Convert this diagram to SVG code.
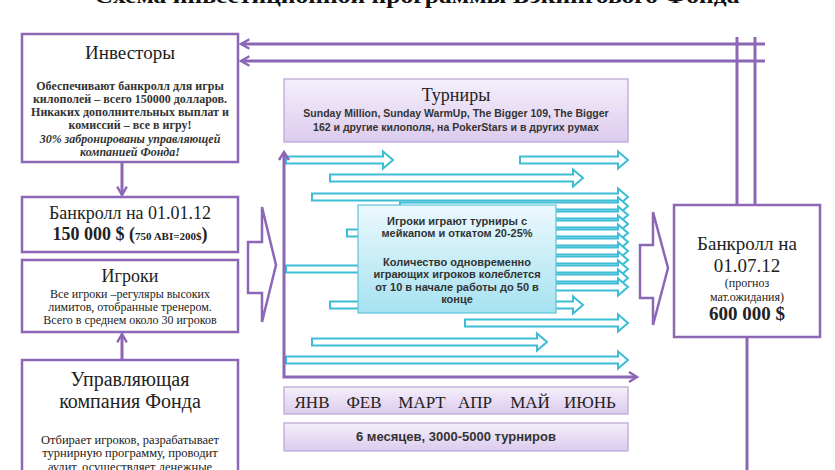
<svg xmlns="http://www.w3.org/2000/svg" width="835" height="470" viewBox="0 0 835 470">
<defs>
<style>
.pbox{fill:#fff;stroke:#8c67b6;stroke-width:2.5}
.lav{fill:url(#gl);stroke:#b9a3d4;stroke-width:1.2}
.cyb{fill:url(#gc);stroke:#5ec3d9;stroke-width:1.2}
.pl{fill:none;stroke:#8c67b6;stroke-width:3}
.ca{fill:#fff;stroke:#3dbdd5;stroke-width:2}
.pa{fill:#fff;stroke:#8c67b6;stroke-width:2.5}
.h{font-family:"Liberation Serif",serif;fill:#222;text-anchor:middle}
.sb{font-family:"Liberation Serif",serif;font-weight:bold;fill:#333;text-anchor:middle}
.s{font-family:"Liberation Sans",sans-serif;font-weight:bold;fill:#333;text-anchor:middle}
</style>
<linearGradient id="gl" x1="0" y1="0" x2="0" y2="1"><stop offset="0" stop-color="#f5f0fb"/><stop offset="1" stop-color="#dccbee"/></linearGradient>
<linearGradient id="gc" x1="0" y1="0" x2="0" y2="1"><stop offset="0" stop-color="#ecf9fd"/><stop offset="1" stop-color="#a6e2f1"/></linearGradient>
<marker id="ch" viewBox="0 0 10 10" refX="8" refY="5" markerWidth="4" markerHeight="4" orient="auto" markerUnits="strokeWidth"><path d="M1,1 L8,5 L1,9" fill="none" stroke="#8c67b6" stroke-width="2"/></marker>
</defs>
<text x="417" y="3" font-family="Liberation Serif,serif" font-weight="bold" font-size="22" text-anchor="middle" textLength="645" lengthAdjust="spacingAndGlyphs" fill="#111">Схема инвестиционной программы Бэкингового Фонда</text>

<g id="connectors">
<line class="pl" x1="765" y1="44" x2="241" y2="44" marker-end="url(#ch)"/>
<line class="pl" x1="765" y1="61" x2="241" y2="61" marker-end="url(#ch)"/>
<line class="pl" x1="737" y1="37" x2="737" y2="205"/>
<line class="pl" x1="755" y1="37" x2="755" y2="205"/>
<line class="pl" x1="747" y1="337" x2="747" y2="470"/>
<line class="pl" x1="122" y1="163" x2="122" y2="195" marker-end="url(#ch)"/>
<line class="pl" x1="122" y1="360" x2="122" y2="334" marker-end="url(#ch)"/>
<path class="pa" d="M248,242 H262 V207 L276,265 L262,322 V293 H248 Z"/>
<path class="pa" d="M640,245 H653 V212 L668,268 L653,325 V298 H640 Z"/>
</g>

<g id="flows">
<path class="ca" d="M286,156.5 H383 V151.5 L393,160 L383,168.5 V163.5 H286 Z"/>
<path class="ca" d="M520,156.5 H618 V151.5 L628,160 L618,168.5 V163.5 H520 Z"/>
<path class="ca" d="M330,174.5 H573 V169.5 L583,178 L573,186.5 V181.5 H330 Z"/>
<path class="ca" d="M312,193.5 H618 V188.5 L628,197 L618,205.5 V200.5 H312 Z"/>
<path class="ca" d="M400,202.5 H618 V197.5 L628,206 L618,214.5 V209.5 H400 Z"/>
<path class="ca" d="M400,211.5 H618 V206.5 L628,215 L618,223.5 V218.5 H400 Z"/>
<path class="ca" d="M400,220.5 H618 V215.5 L628,224 L618,232.5 V227.5 H400 Z"/>
<path class="ca" d="M347,229.5 H618 V224.5 L628,233 L618,241.5 V236.5 H347 Z"/>
<path class="ca" d="M400,238.5 H618 V233.5 L628,242 L618,250.5 V245.5 H400 Z"/>
<path class="ca" d="M400,247.5 H618 V242.5 L628,251 L618,259.5 V254.5 H400 Z"/>
<path class="ca" d="M400,256.5 H618 V251.5 L628,260 L618,268.5 V263.5 H400 Z"/>
<path class="ca" d="M286,265.5 H618 V260.5 L628,269 L618,277.5 V272.5 H286 Z"/>
<path class="ca" d="M400,274.5 H618 V269.5 L628,278 L618,286.5 V281.5 H400 Z"/>
<path class="ca" d="M400,283.5 H618 V278.5 L628,287 L618,295.5 V290.5 H400 Z"/>
<path class="ca" d="M330,301.5 H573 V296.5 L583,305 L573,313.5 V308.5 H330 Z"/>
<path class="ca" d="M465,319.5 H618 V314.5 L628,323 L618,331.5 V326.5 H465 Z"/>
<path class="ca" d="M312,338.5 H537 V333.5 L547,342 L537,350.5 V345.5 H312 Z"/>
<path class="ca" d="M286,356.5 H618 V351.5 L628,360 L618,368.5 V363.5 H286 Z"/>
<polyline class="pl" points="284,152 284,377 636,377"/>
<path d="M279,160 L284,152 L289,160" fill="none" stroke="#8c67b6" stroke-width="2.5"/>
<path d="M629,372 L637,377 L629,382" fill="none" stroke="#8c67b6" stroke-width="2.5"/>
</g>

<g id="investors">
<rect class="pbox" x="22" y="34" width="216" height="128"/>
<text class="h" x="130" y="59" font-size="19">Инвесторы</text>
<text class="sb" font-size="12"><tspan x="130" y="90">Обеспечивают банкролл для игры</tspan><tspan x="130" y="103">килополей – всего 150000 долларов.</tspan><tspan x="130" y="116">Никаких дополнительных выплат и</tspan><tspan x="130" y="129">комиссий – все в игру!</tspan><tspan x="130" y="142.5" font-style="italic">30%  забронированы управляющей</tspan><tspan x="130" y="156" font-style="italic">компанией Фонда!</tspan></text>
</g>

<g id="bankroll-start">
<rect class="pbox" x="22" y="197" width="216" height="55"/>
<text class="h" x="130" y="219" font-size="18">Банкролл на 01.01.12</text>
<text class="h" x="130" y="240" font-size="18" font-weight="bold">150 000 $ (<tspan font-size="11">750 ABI=200$</tspan>)</text>
</g>

<g id="players">
<rect class="pbox" x="22" y="260" width="216" height="72"/>
<text class="h" x="130" y="282" font-size="18">Игроки</text>
<text class="h" font-size="12"><tspan x="130" y="298">Все игроки –регуляры высоких</tspan><tspan x="130" y="311">лимитов, отобранные тренером.</tspan><tspan x="130" y="324">Всего в среднем около 30 игроков</tspan></text>
</g>

<g id="management">
<rect class="pbox" x="22" y="360" width="216" height="120"/>
<text class="h" x="130" y="386" font-size="20">Управляющая</text>
<text class="h" x="130" y="408" font-size="20">компания Фонда</text>
<text class="h" font-size="12.5"><tspan x="130" y="444">Отбирает игроков, разрабатывает</tspan><tspan x="130" y="457">турнирную программу, проводит</tspan><tspan x="130" y="471">аудит, осуществляет денежные</tspan></text>
</g>

<g id="tournaments">
<rect class="lav" x="284" y="79" width="344" height="63"/>
<text class="h" x="456" y="101" font-size="18">Турниры</text>
<text class="s" font-size="10.5"><tspan x="456" y="117">Sunday Million, Sunday WarmUp, The Bigger 109, The Bigger</tspan><tspan x="456" y="131">162 и другие килополя, на PokerStars и в других румах</tspan></text>
</g>

<g id="players-play">
<rect class="cyb" x="358" y="205" width="198" height="108"/>
<text class="s" font-size="11"><tspan x="457" y="225">Игроки играют турниры с</tspan><tspan x="457" y="237">мейкапом и откатом 20-25%</tspan><tspan x="457" y="266">Количество одновременно</tspan><tspan x="457" y="278">играющих игроков колеблется</tspan><tspan x="457" y="291">от 10 в начале работы до 50 в</tspan><tspan x="457" y="303">конце</tspan></text>
</g>

<g id="bankroll-end">
<rect class="pbox" x="674" y="205" width="146" height="132"/>
<text class="h" x="747" y="250" font-size="19">Банкролл на</text>
<text class="h" x="747" y="272" font-size="19">01.07.12</text>
<text class="h" x="747" y="287" font-size="12">(прогноз</text>
<text class="h" x="747" y="301" font-size="12">мат.ожидания)</text>
<text class="h" x="747" y="320" font-size="19" font-weight="bold">600 000 $</text>
</g>

<g id="months">
<rect class="lav" x="284" y="387" width="344" height="27"/>
<g class="h" font-size="17"><text x="312" y="408">ЯНВ</text><text x="364" y="408">ФЕВ</text><text x="422" y="408">МАРТ</text><text x="475" y="408">АПР</text><text x="530" y="408">МАЙ</text><text x="590" y="408">ИЮНЬ</text></g>
</g>

<g id="duration">
<rect class="lav" x="284" y="423" width="344" height="28"/>
<text class="s" x="456" y="441" font-size="13">6 месяцев, 3000-5000 турниров</text>
</g>
</svg>
